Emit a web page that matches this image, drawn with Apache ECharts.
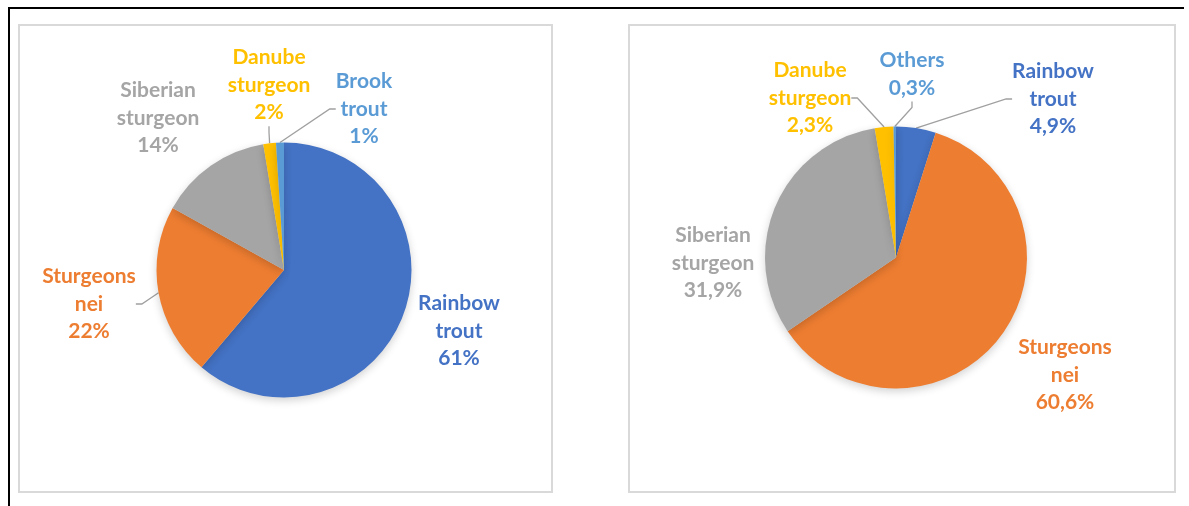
<!DOCTYPE html>
<html>
<head>
<meta charset="utf-8">
<script src="https://cdn.jsdelivr.net/npm/echarts@6/dist/echarts.min.js"></script>
<style>
    html, body { margin: 0; padding: 0; background: #fff; }
    #chart { width: 1189px; height: 506px; }
</style>
</head>
<body>
<div id="chart"></div>
<script>
    // Left pie (share of production, rounded)
    const categoriesLeft = ['Rainbow trout', 'Sturgeons nei', 'Siberian sturgeon', 'Danube sturgeon', 'Brook trout'];
    const valuesLeft = [61.2, 21.9, 14.3, 1.6, 1.0];
    // Right pie (one decimal)
    const categoriesRight = ['Rainbow trout', 'Sturgeons nei', 'Siberian sturgeon', 'Danube sturgeon', 'Others'];
    const valuesRight = [4.9, 60.6, 31.9, 2.3, 0.3];

    const sliceColors = ['#4472C4', '#ED7D31', '#A5A5A5', '#FFC000', '#5B9BD5'];

    // slices that get a leader line
    const leaderLeft = ['Sturgeons nei', 'Danube sturgeon', 'Brook trout'];
    const leaderRight = ['Rainbow trout', 'Danube sturgeon', 'Others'];

    // label block centres (layout only)
    const labelPosLeft = [[459, 331], [89, 304], [158, 118], [269, 85], [364, 109]];
    const labelPosRight = [[1053, 99], [1065, 375], [713, 263], [810, 98], [912, 74]];

    function buildData(names, values, leaders) {
        return names.map((n, i) => ({
            name: n,
            value: values[i],
            itemStyle: { color: sliceColors[i] },
            labelLine: { show: leaders.indexOf(n) >= 0 }
        }));
    }

    function pieSeries(names, values, leaders, center, radius, positions, fmt) {
        return {
            type: 'pie',
            center: center,
            radius: radius,
            startAngle: 90,
            clockwise: true,
            avoidLabelOverlap: false,
            minShowLabelAngle: 0,
            silent: true,
            data: buildData(names, values, leaders),
            itemStyle: {
                shadowBlur: 8,
                shadowOffsetY: 3,
                shadowColor: 'rgba(0,0,0,0.18)'
            },
            label: {
                show: true,
                position: 'outside',
                color: 'inherit',
                fontFamily: 'Lato',
                fontWeight: 'bold',
                fontSize: 21,
                lineHeight: 27.5,
                align: 'center',
                formatter: p => p.name.replace(' ', '\n') + '\n' + fmt(p.value)
            },
            labelLine: {
                show: false,
                length: 10,
                length2: 6,
                lineStyle: { color: '#a0a0a0', width: 1.3 }
            },
            labelLayout: function (params) {
                const pos = positions[params.dataIndex];
                return { x: pos[0], y: pos[1], align: 'center', verticalAlign: 'middle' };
            }
        };
    }

    const chart = echarts.init(document.getElementById('chart'));
    const option = {
        animation: false,
        backgroundColor: '#fff',
        graphic: [
            // outer black frame (top and left)
            { type: 'line', shape: { x1: 8, y1: 8, x2: 1184, y2: 8 }, style: { stroke: '#000', lineWidth: 2 } },
            { type: 'line', shape: { x1: 9, y1: 7, x2: 9, y2: 506 }, style: { stroke: '#000', lineWidth: 2 } },
            // chart area boxes
            { type: 'rect', shape: { x: 19, y: 25, width: 533, height: 467 }, style: { fill: 'none', stroke: '#d9d9d9', lineWidth: 2 } },
            { type: 'rect', shape: { x: 629, y: 25, width: 546, height: 467 }, style: { fill: 'none', stroke: '#d9d9d9', lineWidth: 2 } }
        ],
        series: [
            pieSeries(categoriesLeft, valuesLeft, leaderLeft, [284, 270], 127.5, labelPosLeft,
                v => Math.round(v) + '%'),
            pieSeries(categoriesRight, valuesRight, leaderRight, [896, 257.5], 131, labelPosRight,
                v => v.toFixed(1).replace('.', ',') + '%')
        ]
    };
    chart.setOption(option);
</script>
</body>
</html>
